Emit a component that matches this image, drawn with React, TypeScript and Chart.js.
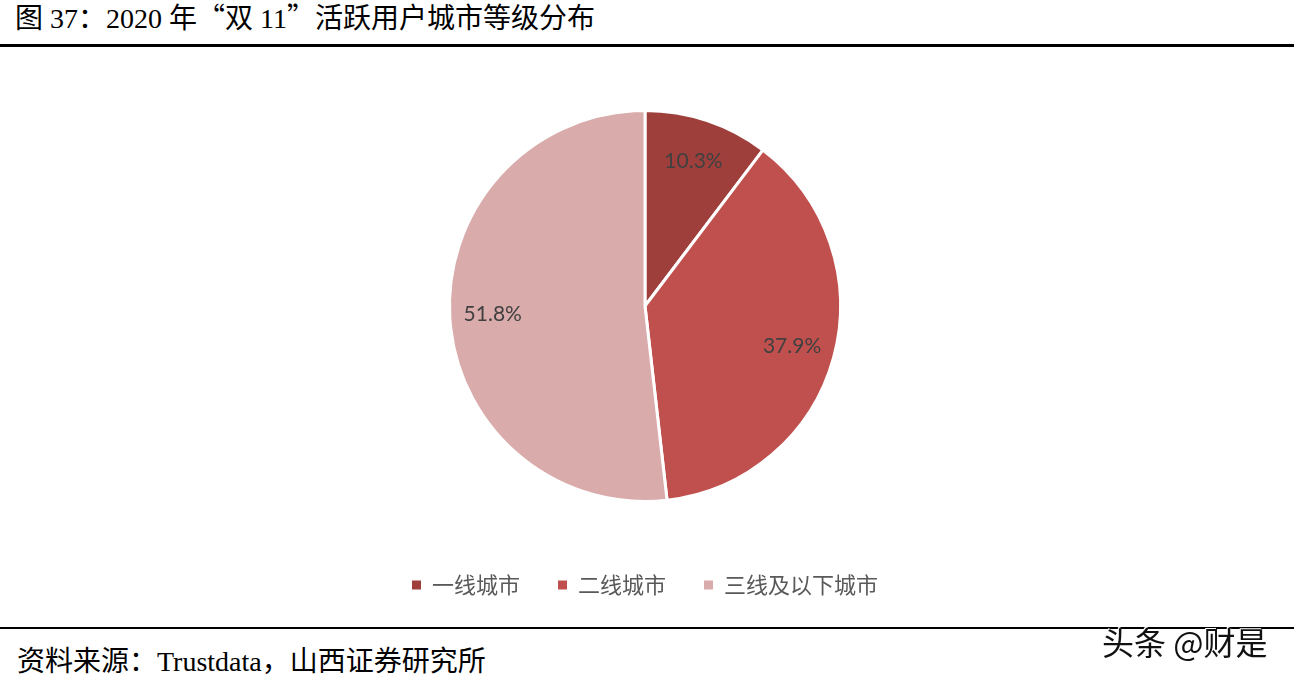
import React, { useEffect, useRef } from "react";
import { Chart, registerables } from "chart.js";

Chart.register(...registerables);

const categories = ["一线城市", "二线城市", "三线及以下城市"];
const shares = [10.3, 37.9, 51.8];
const sliceColors = ["#9E3F3C", "#C0504D", "#DAABAB"];
const titleParts = ["图 37：2020 年", "“", "双 11", "”", "活跃用户城市等级分布"];
const sourceText = "资料来源：Trustdata，山西证券研究所";
const watermarkText = "头条 @财是";

const sliceLabels = {
  id: "sliceLabels",
  afterDatasetsDraw(chart: any) {
    const ctx = chart.ctx;
    const meta = chart.getDatasetMeta(0);
    ctx.save();
    ctx.font = '21px Lato, "Open Sans", sans-serif';
    ctx.fillStyle = "#404040";
    ctx.textAlign = "center";
    ctx.textBaseline = "middle";
    meta.data.forEach((arc: any, i: number) => {
      const p = arc.getProps(["x", "y", "startAngle", "endAngle", "outerRadius"], true);
      const mid = (p.startAngle + p.endAngle) / 2;
      const r = p.outerRadius * 0.78;
      const v = chart.data.datasets[0].data[i];
      ctx.fillText(v.toFixed(1) + "%", p.x + Math.cos(mid) * r, p.y + Math.sin(mid) * r);
    });
    ctx.restore();
  },
};

const serif = '"Liberation Serif", "Noto Sans CJK SC", serif';
const cjk = '"Noto Sans CJK SC", sans-serif';

export default function App() {
  const canvasRef = useRef<HTMLCanvasElement | null>(null);

  useEffect(() => {
    if (!canvasRef.current) return;
    const chart = new Chart(canvasRef.current, {
      type: "pie",
      data: {
        labels: categories,
        datasets: [
          {
            data: shares,
            backgroundColor: sliceColors,
            borderColor: "#ffffff",
            borderWidth: 3,
          },
        ],
      },
      options: {
        animation: false,
        responsive: false,
        maintainAspectRatio: false,
        radius: 195.5,
        layout: { padding: { top: 26, bottom: 14, left: 0, right: 4 } },
        plugins: {
          tooltip: { enabled: false },
          legend: {
            display: true,
            position: "bottom",
            labels: {
              boxWidth: 9,
              boxHeight: 9,
              padding: 38,
              color: "#595959",
              font: { size: 22, family: cjk },
              generateLabels(chart: any) {
                const items = Chart.overrides.pie.plugins.legend.labels.generateLabels(chart);
                return items.map((it: any) => ({ ...it, lineWidth: 0, strokeStyle: "rgba(0,0,0,0)" }));
              },
            },
          },
        },
      } as any,
      plugins: [sliceLabels],
    });
    return () => chart.destroy();
  }, []);

  return (
    <div
      style={{
        position: "fixed",
        left: 0,
        top: 0,
        width: 1294,
        height: 678,
        background: "#ffffff",
        overflow: "hidden",
      }}
    >
      <div
        style={{
          position: "absolute",
          left: 15,
          top: 1,
          fontSize: 28,
          lineHeight: "30px",
          color: "#000",
          fontFamily: serif,
          whiteSpace: "nowrap",
        }}
      >
        {titleParts.map((t, i) => (
          <span key={i} style={{ fontFamily: i % 2 === 1 ? cjk : serif }}>
            {t}
          </span>
        ))}
      </div>
      <div style={{ position: "absolute", left: 0, top: 44, width: 1294, height: 3, background: "#000" }} />
      <canvas
        ref={canvasRef}
        width={1294}
        height={570}
        style={{ position: "absolute", left: 0, top: 50, width: 1294, height: 570 }}
      />
      <div style={{ position: "absolute", left: 0, top: 627, width: 1294, height: 2, background: "#000" }} />
      <div
        style={{
          position: "absolute",
          left: 17,
          top: 646,
          fontSize: 28,
          lineHeight: "32px",
          color: "#000",
          fontFamily: serif,
          whiteSpace: "nowrap",
        }}
      >
        {sourceText}
      </div>
      <div
        style={{
          position: "absolute",
          left: 1102,
          top: 622,
          fontSize: 32,
          lineHeight: "38px",
          color: "#111",
          fontFamily: cjk,
          whiteSpace: "nowrap",
          textShadow: "1px 1px 0 #fff, -1px -1px 0 #fff",
        }}
      >
        {watermarkText}
      </div>
    </div>
  );
}
